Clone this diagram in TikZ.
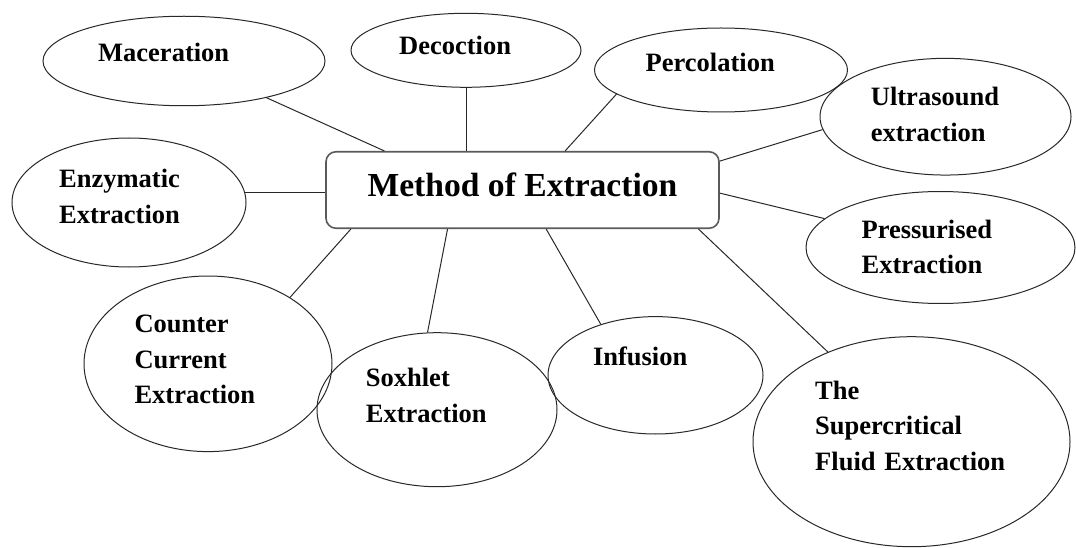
\documentclass[tikz,border=0pt]{standalone}
\usepackage{fontspec}
\setmainfont{Liberation Serif}
\usetikzlibrary{shapes.geometric, calc, positioning}
\definecolor{line1}{RGB}{40,40,40}
\definecolor{line2}{RGB}{90,90,90}

\begin{document}
\begin{tikzpicture}[x=1pt,y=-1pt,
	oval/.style={ellipse,draw=line1,line width=1pt,inner sep=0pt},
	centre/.style={rectangle,rounded corners=10pt,draw=line2,line width=1.6pt,minimum width=393pt,minimum height=76.5pt,inner sep=0pt,text depth=11pt,font=\fontsize{33.6}{40}\selectfont\bfseries},
	txt/.style={anchor=base west,inner sep=0pt,text width=220pt,align=left,font=\fontsize{26.5}{35.4}\selectfont\bfseries},
	link/.style={draw=line1,line width=1pt}]
		\useasboundingbox (0,0) rectangle (1076,548);
		\node[centre] (method) at (522.5,190) {Method of Extraction};
		
		\node[oval,minimum width=282pt,minimum height=89.5pt] (mac) at (184,61) {};
		\node[oval,minimum width=230pt,minimum height=74pt] (dec) at (466,50.3) {};
		\node[oval,minimum width=253pt,minimum height=84pt] (perc) at (721,70) {};
		\node[oval,minimum width=251pt,minimum height=116.7pt] (ultra) at (945.5,116.7) {};
		\node[oval,minimum width=269pt,minimum height=112pt] (pres) at (940.5,247.5) {};
		\node[oval,minimum width=234pt,minimum height=129pt] (enz) at (129,202.5) {};
		\node[oval,minimum width=248pt,minimum height=175.6pt] (cc) at (208,363.8) {};
		\node[oval,minimum width=240pt,minimum height=154pt] (sox) at (437,409.7) {};
		\node[oval,minimum width=215pt,minimum height=117.4pt] (inf) at (655.5,375.3) {};
		\node[oval,minimum width=317pt,minimum height=210pt] (sup) at (911.5,441.7) {};
		
		\node[txt] (mac-t) at (98,61.7) {Maceration};
		\node[txt] (dec-t) at (399,55) {Decoction};
		\node[txt] (perc-t) at (645.5,71.7) {Percolation};
		\node[txt] (ultra-t) at (870.7,106) {Ultrasound\\extraction};
		\node[txt] (pres-t) at (861.4,238) {Pressurised\\Extraction};
		\node[txt] (enz-t) at (59,188) {Enzymatic\\Extraction};
		\node[txt] (cc-t) at (134.3,332.7) {Counter\\Current\\Extraction};
		\node[txt] (sox-t) at (365.7,386.7) {Soxhlet\\Extraction};
		\node[txt] (inf-t) at (592.8,365.7) {Infusion};
		\node[txt] (sup-t) at (815,399.3) {The\\Supercritical\\Fluid Extraction};
		
		\draw[link] (mac.-24) -- ($(method.north west)!0.15!(method.north east)$);
		\draw[link] (dec.south) -- (dec.south |- method.north);
		\draw[link] (perc.193) -- ($(method.north west)!0.608!(method.north east)$);
		\draw[link] (ultra.186) -- ($(method.north east)!0.13!(method.south east)$);
		\draw[link] (pres.166) -- ($(method.north east)!0.54!(method.south east)$);
		\draw[link] (enz.5) -- (enz.5 -| method.west);
		\draw[link] (cc.39) -- ($(method.south west)!0.065!(method.south east)$);
		\draw[link] (sox.97) -- ($(method.south west)!0.31!(method.south east)$);
		\draw[link] (inf.137) -- ($(method.south west)!0.56!(method.south east)$);
		\draw[link] (sup.133) -- ($(method.south west)!0.946!(method.south east)$);
\end{tikzpicture}
\end{document}
